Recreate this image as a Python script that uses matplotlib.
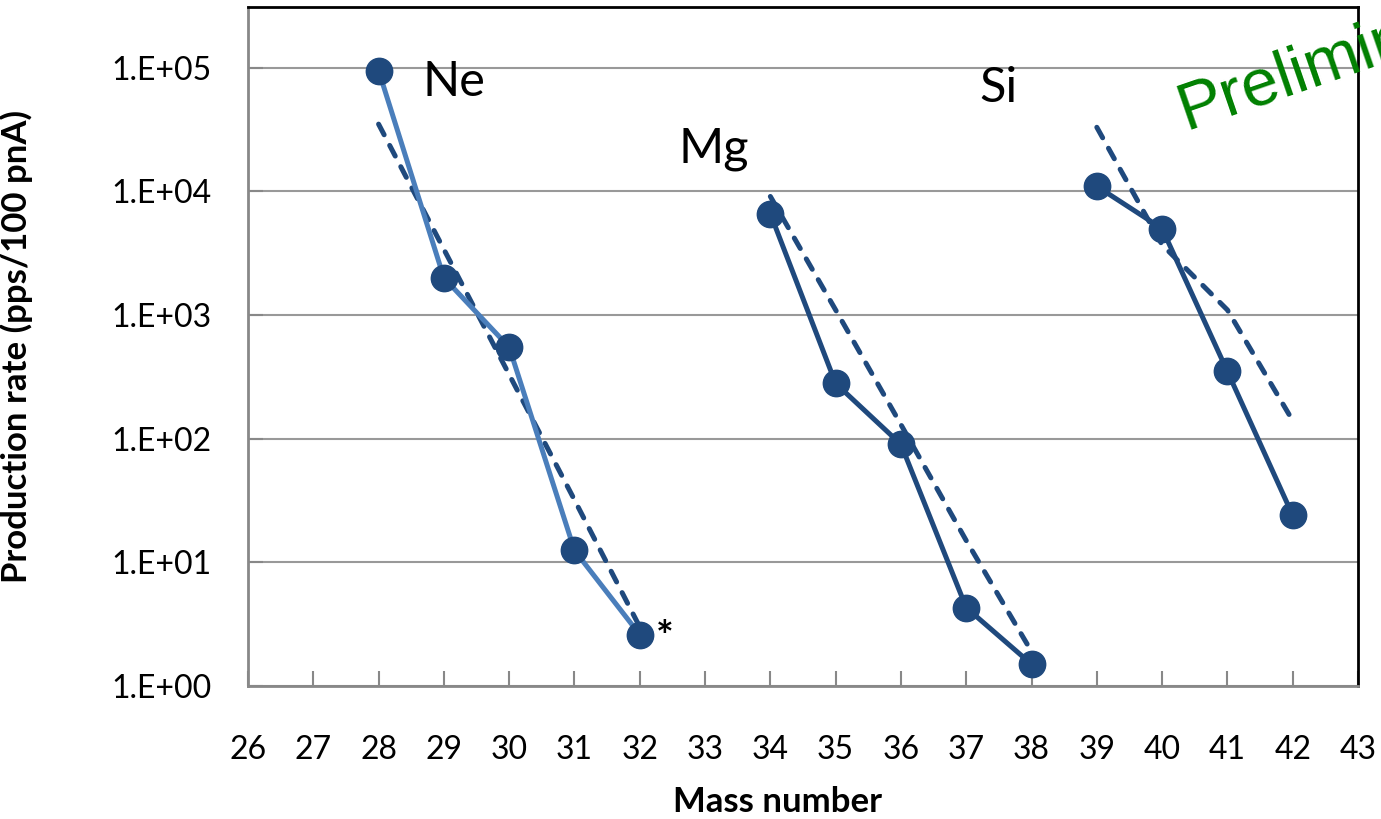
import matplotlib.pyplot as plt

plt.rcParams['font.family'] = ['Lato', 'DejaVu Sans']

# production rates (pps / 100 pnA) per isotope chain
ne_mass = [28, 29, 30, 31, 32]
ne_rate = [9.5e4, 2.0e3, 5.5e2, 12.5, 2.6]
ne_fit = [3.5e4, 3.4e3, 3.3e2, 32, 3.0]

mg_mass = [34, 35, 36, 37, 38]
mg_rate = [6.6e3, 2.8e2, 90, 4.3, 1.5]
mg_fit = [9.1e3, 1.1e3, 1.3e2, 15, 1.9]

si_mass = [39, 40, 41, 42]
si_rate = [1.1e4, 5.0e3, 3.5e2, 24]
si_fit = [3.3e4, 3.7e3, 1.1e3, 1.4e2]

dark = '#1F497D'
light = '#4A7EBB'

fig = plt.figure(figsize=(13.81, 8.19), dpi=100)
ax = fig.add_axes([248 / 1381, 133 / 819, 1110 / 1381, 679 / 819])

dash = dict(color=dark, lw=3.6, ls=(0, (2.4, 2.4)), dash_capstyle='round', zorder=3)
solid = dict(lw=3.6, marker='o', ms=19, mfc=dark, mec=dark, zorder=4)

ax.plot(ne_mass, ne_fit, **dash)
ax.plot(mg_mass, mg_fit, **dash)
ax.plot(si_mass, si_fit, **dash)
ax.plot(ne_mass, ne_rate, color=light, **solid)
ax.plot(mg_mass, mg_rate, color=dark, **solid)
ax.plot(si_mass, si_rate, color=dark, **solid)

ax.set_yscale('log')
ax.set_ylim(1, 3.1e5)
ax.set_xlim(26, 43)
ax.set_xticks(range(26, 44))
ax.set_yticks([1, 10, 100, 1e3, 1e4, 1e5])
ax.set_yticklabels(['1.E+00', '1.E+01', '1.E+02', '1.E+03', '1.E+04', '1.E+05'])
ax.minorticks_off()
ax.tick_params(axis='both', direction='in', length=11, width=1.5, color='#888888',
               labelsize=23)
ax.tick_params(axis='y', pad=26)
ax.tick_params(axis='x', pad=35)

ax.grid(axis='y', color='#999999', lw=1.5)
ax.set_axisbelow(True)
for s in ['left', 'bottom']:
    ax.spines[s].set_color('#888888')
    ax.spines[s].set_linewidth(2)
for s in ['top', 'right']:
    ax.spines[s].set_color('black')
    ax.spines[s].set_linewidth(2)

ax.set_xlabel('Mass number', fontsize=25, fontweight='bold')
ax.xaxis.set_label_coords(0.477, -0.147)
ax.set_ylabel('Production rate (pps/100 pnA)', fontsize=25, fontweight='bold')
ax.yaxis.set_label_coords(-0.194, 0.5)

ax.text(28.68, 7.6e4, 'Ne', fontsize=35, ha='left', va='center')
ax.text(32.6, 2.2e4, 'Mg', fontsize=35, ha='left', va='center')
ax.text(37.2, 6.8e4, 'Si', fontsize=35, ha='left', va='center')
ax.text(32.25, 2.4, '*', fontsize=30, fontweight='bold', ha='left', va='center')

fig.text(1186 / 1381, 1 - 130 / 819, 'Preliminary', fontsize=48, color='#008000',
         family='Liberation Sans', rotation=19, rotation_mode='anchor',
         ha='left', va='baseline')

fig.savefig('out.png', dpi=100)
